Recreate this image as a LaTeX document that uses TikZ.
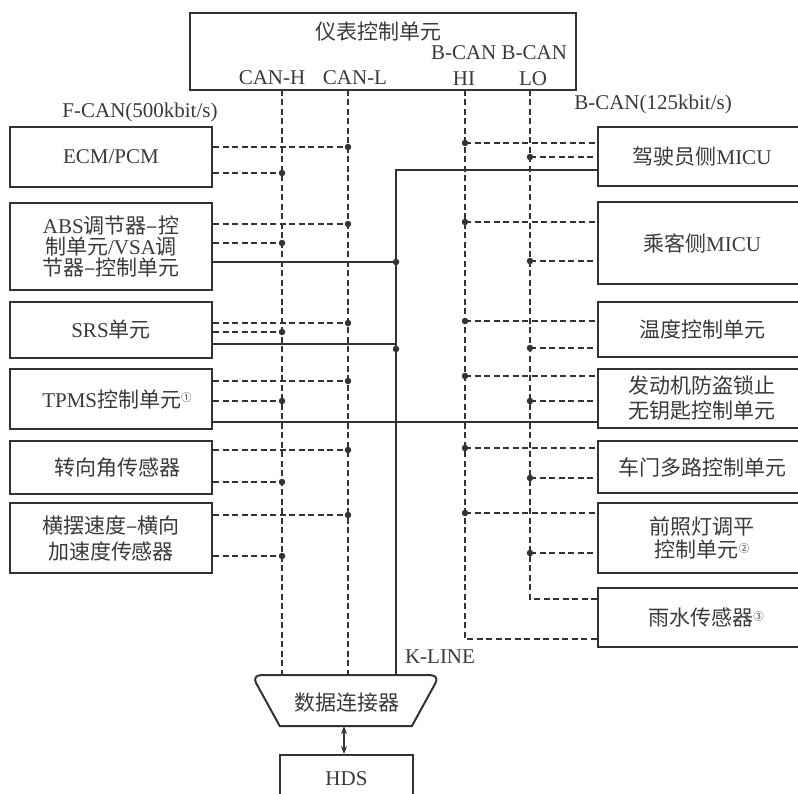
\documentclass[tikz,border=0pt]{standalone}
\usepackage{fontspec}
\setmainfont{Liberation Serif}
\newfontfamily\cjk{Noto Sans CJK SC}
\newcommand\zh[1]{{\cjk #1}}
\newcommand\fs{\fontsize{21}{21}\selectfont}
\newcommand\circnum[1]{\raisebox{0.55ex}{\fontsize{10.5}{10.5}\selectfont\cjk #1}}
\usetikzlibrary{arrows.meta}
\definecolor{ink}{HTML}{333333}
\definecolor{txt}{HTML}{3a3a3a}
\begin{document}
\begin{tikzpicture}[x=1pt,y=-1pt,
  box/.style={draw=ink, line width=2pt, inner sep=0pt, align=center, text=txt, font=\fs},
  lbl/.style={inner sep=0pt, text=txt, font=\fs, align=center},
  bus/.style={draw=ink, line width=1.1pt, dash pattern=on 6pt off 3.5pt},
  kl/.style={draw=ink, line width=1.1pt},
  dot/.style={circle, fill=ink, inner sep=0pt, minimum size=6.5pt}]
\path[use as bounding box, clip] (0,0) rectangle (798,794);
\fill[white] (0,0) rectangle (798,794);

% instrument control unit
\node[box, minimum width=386, minimum height=77] (icu) at (383,51.5) {};
\node[lbl] (icuT) at (378,32) {\zh{仪表控制单元}};
\node[lbl] (canhT) at (272,78) {CAN-H};
\node[lbl] (canlT) at (355,78) {CAN-L};
\node[lbl] (bcanT) at (499,53) {B-CAN B-CAN};
\node[lbl] (hiT) at (464,79) {HI};
\node[lbl] (loT) at (533,79) {LO};
\node[lbl] (fcan) at (140,112) {F-CAN(500kbit/s)};
\node[lbl] (bcan) at (653,104) {B-CAN(125kbit/s)};

\coordinate (hT) at (282,90);
\coordinate (lT) at (348,90);
\coordinate (biT) at (465,90);
\coordinate (boT) at (530,90);
\coordinate (kT) at (396,170);

% left boxes
\node[box, minimum width=202, minimum height=60] (ecm) at (111,157) {ECM/PCM};
\node[box, minimum width=202, minimum height=87] (abs) at (111,246.5) {ABS\zh{调节器–控}\\\zh{制单元}/VSA\zh{调}\\\zh{节器–控制单元}};
\node[box, minimum width=202, minimum height=56] (srs) at (111,330) {SRS\zh{单元}};
\node[box, minimum width=202, minimum height=60] (tpms) at (111,399) {\hspace*{12pt}TPMS\zh{控制单元}\circnum{①}};
\node[box, minimum width=202, minimum height=53] (steer) at (111,467.5) {\hspace*{12pt}\zh{转向角传感器}};
\node[box, minimum width=202, minimum height=70] (yaw) at (111,538) {\zh{横摆速度–横向}\\[5pt]\zh{加速度传感器}};

% right boxes
\node[box, minimum width=208, minimum height=59] (drv) at (702,156.5) {\zh{驾驶员侧}MICU};
\node[box, minimum width=208, minimum height=82] (pas) at (702,243) {\zh{乘客侧}MICU};
\node[box, minimum width=208, minimum height=55] (temp) at (702,329.5) {\zh{温度控制单元}};
\node[box, minimum width=208, minimum height=59] (imm) at (702,398.5) {\zh{发动机防盗锁止}\\[4pt]\zh{无钥匙控制单元}};
\node[box, minimum width=208, minimum height=52] (door) at (702,467) {\zh{车门多路控制单元}};
\node[box, minimum width=208, minimum height=70] (head) at (702,538) {\zh{前照灯调平}\\[2pt]\zh{控制单元}\circnum{②}};
\node[box, minimum width=208, minimum height=59] (rain) at (702,617.5) {\hspace*{8pt}\zh{雨水传感器}\circnum{③}};

% data link connector
\node[minimum width=182, minimum height=51, inner sep=0pt] (dlc) at (346,700.5) {};
\draw[ink, line width=2pt] (dlc.south west) ++(25,0) [rounded corners=9pt] -- ++(-28,-51) -- ++(188,0) [sharp corners] -- ++(-28,51) -- cycle;
\node[lbl] (dlcT) at (347,703) {\zh{数据连接器}};
\node[box, minimum width=133, minimum height=48] (hds) at (346.5,779) {HDS};
\draw[kl, {Stealth[length=8pt,width=6pt]}-{Stealth[length=8pt,width=6pt]}] (dlc.south -| 344,0) -- (hds.north -| 344,0);
\node[lbl] (kline) at (440,657) {K-LINE};

% buses
\draw[bus] (hT) -- (hT |- dlc.north);
\draw[bus] (lT) -- (lT |- dlc.north);
\draw[bus] (biT) -- (465,639) -- (rain.west |- 0,639);
\draw[bus] (boT) -- (530,599) -- (rain.west |- 0,599);
\draw[kl] (drv.west |- kT) -- (kT) -- (kT |- dlc.north);

% left stubs
\draw[bus] (ecm.east |- 0,147) -- (lT |- 0,147) node[dot] (d1) {};
\draw[bus] (ecm.east |- 0,173) -- (hT |- 0,173) node[dot] (d2) {};
\draw[bus] (abs.east |- 0,224) -- (lT |- 0,224) node[dot] (d3) {};
\draw[bus] (abs.east |- 0,243) -- (hT |- 0,243) node[dot] (d4) {};
\draw[kl] (abs.east |- 0,262) -- (kT |- 0,262) node[dot] (d5) {};
\draw[bus] (srs.east |- 0,323) -- (lT |- 0,323) node[dot] (d6) {};
\draw[bus] (srs.east |- 0,332) -- (hT |- 0,332) node[dot] (d7) {};
\draw[kl] (srs.east |- 0,344) -- (kT |- 0,344);
\node[dot] (d8) at (kT |- 0,349) {};
\draw[bus] (tpms.east |- 0,381) -- (lT |- 0,381) node[dot] (d9) {};
\draw[bus] (tpms.east |- 0,401) -- (hT |- 0,401) node[dot] (d10) {};
\draw[kl] (tpms.east |- 0,422) -- (imm.west |- 0,422);
\draw[bus] (steer.east |- 0,450) -- (lT |- 0,450) node[dot] (d11) {};
\draw[bus] (steer.east |- 0,482) -- (hT |- 0,482) node[dot] (d12) {};
\draw[bus] (yaw.east |- 0,515) -- (lT |- 0,515) node[dot] (d13) {};
\draw[bus] (yaw.east |- 0,556) -- (hT |- 0,556) node[dot] (d14) {};

% right stubs
\draw[bus] (biT |- 0,143) node[dot] (e1) {} -- (drv.west |- 0,143);
\draw[bus] (boT |- 0,157) node[dot] (e2) {} -- (drv.west |- 0,157);
\draw[bus] (biT |- 0,222) node[dot] (e3) {} -- (pas.west |- 0,222);
\draw[bus] (boT |- 0,261) node[dot] (e4) {} -- (pas.west |- 0,261);
\draw[bus] (biT |- 0,321) node[dot] (e5) {} -- (temp.west |- 0,321);
\draw[bus] (boT |- 0,348) node[dot] (e6) {} -- (temp.west |- 0,348);
\draw[bus] (biT |- 0,376) node[dot] (e7) {} -- (imm.west |- 0,376);
\draw[bus] (boT |- 0,401) node[dot] (e8) {} -- (imm.west |- 0,401);
\draw[bus] (biT |- 0,448) node[dot] (e9) {} -- (door.west |- 0,448);
\draw[bus] (boT |- 0,478) node[dot] (e10) {} -- (door.west |- 0,478);
\draw[bus] (biT |- 0,513) node[dot] (e11) {} -- (head.west |- 0,513);
\draw[bus] (boT |- 0,553) node[dot] (e12) {} -- (head.west |- 0,553);
\end{tikzpicture}
\end{document}
